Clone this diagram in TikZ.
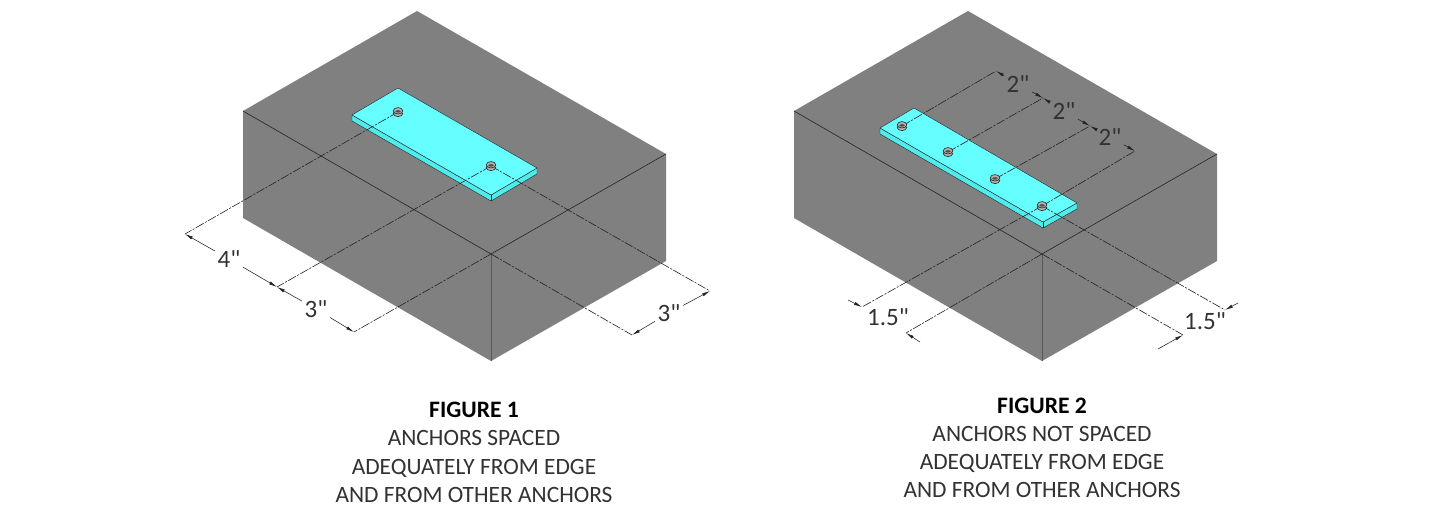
\documentclass[tikz,border=0pt]{standalone}
\usepackage{fontspec}
\setmainfont{Carlito}
\newfontfamily\dimfont{Carlito}
\usetikzlibrary{arrows.meta}
\definecolor{blockgray}{RGB}{128,128,128}
\definecolor{platecyan}{RGB}{102,255,255}
\definecolor{plateside}{RGB}{80,235,235}
\definecolor{inkline}{RGB}{35,35,35}
\definecolor{inktext}{RGB}{50,50,50}
\tikzset{
  blockface/.style={fill=blockgray,draw=none},
  edgeline/.style={draw=inkline,line width=0.6pt,line join=round},
  plateface/.style={fill=platecyan,draw=inkline,line width=0.4pt,line join=round},
  platesidef/.style={fill=plateside,draw=inkline,line width=0.4pt,line join=round},
  witness/.style={draw=inkline,line width=0.6pt,dash pattern=on 9pt off 1.5pt on 2pt off 1.5pt},
  dimline/.style={draw=inkline,line width=0.55pt},
  dimarrow/.style={dimline,-{Latex[length=8pt,width=3.2pt]}},
  dimtext/.style={font=\dimfont\fontsize{25}{25}\selectfont,text=inktext,inner sep=2.5pt},
  captitle/.style={font=\fontsize{23.6}{24}\selectfont\bfseries,text=black,inner sep=0pt,anchor=base},
  capline/.style={font=\fontsize{23.4}{24}\selectfont,text=inktext,inner sep=0pt,anchor=base},
  boltbody/.style={fill=black!30,draw=inkline,line width=0.6pt},
}
\newcommand{\boltat}[2]{%
  \begin{scope}[shift={(#1,#2)}]
    \path[boltbody] (0,1.4) ellipse[x radius=4.8,y radius=3.2];
    \path[fill=black!30] (-4.5,-1) rectangle (4.5,1.4);
    \path[boltbody] (0,-1.2) ellipse[x radius=4.8,y radius=3.2];
    \path[fill=black!70] (0,-0.6) ellipse[x radius=2.8,y radius=1.2];
  \end{scope}}
\begin{document}
\begin{tikzpicture}[x=1pt,y=-1pt]
\useasboundingbox (0,0) rectangle (1430,511);
\fill[white] (0,0) rectangle (1430,511);

% ---------- Figure 1 ----------
\coordinate (aT) at (417,11);
\coordinate (aL) at (243,111);
\coordinate (aR) at (666,154);
\coordinate (aF) at (491,254);
\coordinate (aLb) at (243,218);
\coordinate (aRb) at (666,261);
\coordinate (aFb) at (491,361);
\fill[blockface] (aT) -- (aR) -- (aRb) -- (aFb) -- (aLb) -- (aL) -- cycle;
\draw[edgeline] (aL) -- (aF) -- (aR);
\draw[edgeline,line width=0.8pt,draw=black!65] (aF) -- (aFb);

\coordinate (pL) at (352,115);
\coordinate (pT) at (398,88);
\coordinate (pR) at (537,168);
\coordinate (pF) at (491,195);
\coordinate (pLb) at (352,121);
\coordinate (pRb) at (537,174);
\coordinate (pFb) at (491,201);
\path[platesidef] (pL) -- (pF) -- (pR) -- (pRb) -- (pFb) -- (pLb) -- cycle;
\path[plateface] (pL) -- (pT) -- (pR) -- (pF) -- cycle;
\draw[edgeline,line width=0.4pt] (pF) -- (pFb);

\coordinate (bA) at (398,112);
\coordinate (bB) at (491,166);
\coordinate (d1a) at (185,234);
\coordinate (d1b) at (277,287);
\coordinate (d1c) at (354,332);
\coordinate (d2a) at (710,291);
\coordinate (d2b) at (632,335);
\draw[witness] (bA) -- (d1a);
\draw[witness] (bB) -- (d1b);
\draw[witness] (aF) -- (d1c);
\draw[witness] (bB) -- (d2a);
\draw[witness] (aF) -- (d2b);
\boltat{398}{112}
\boltat{491}{166}

\node[dimtext] (t4) at (229,259) {4"};
\node[dimtext] (t3a) at (316,309) {3"};
\node[dimtext] (t3b) at (669,313) {3"};
\draw[dimarrow] (t4) -- (d1a);
\draw[dimarrow] (t4) -- (d1b);
\draw[dimarrow] (t3a) -- (d1b);
\draw[dimarrow] (t3a) -- (d1c);
\draw[dimarrow] (t3b) -- (d2a);
\draw[dimarrow] (t3b) -- (d2b);

\node[captitle] (c1a) at (474,417) {FIGURE 1};
\node[capline] (c1b) at (474,445) {ANCHORS SPACED};
\node[capline] (c1c) at (474,474) {ADEQUATELY FROM EDGE};
\node[capline] (c1d) at (474,502) {AND FROM OTHER ANCHORS};

% ---------- Figure 2 ----------
\coordinate (eT) at (968,11);
\coordinate (eL) at (794,111);
\coordinate (eR) at (1217,154);
\coordinate (eF) at (1042,254);
\coordinate (eLb) at (794,218);
\coordinate (eRb) at (1217,261);
\coordinate (eFb) at (1042,361);
\fill[blockface] (eT) -- (eR) -- (eRb) -- (eFb) -- (eLb) -- (eL) -- cycle;
\draw[edgeline] (eL) -- (eF) -- (eR);
\draw[edgeline,line width=0.8pt,draw=black!65] (eF) -- (eFb);

\coordinate (qL) at (880,128);
\coordinate (qT) at (914,108);
\coordinate (qR) at (1077,203);
\coordinate (qF) at (1043,222);
\coordinate (qLb) at (880,134);
\coordinate (qRb) at (1077,209);
\coordinate (qFb) at (1043,228);
\path[platesidef] (qL) -- (qF) -- (qR) -- (qRb) -- (qFb) -- (qLb) -- cycle;
\path[plateface] (qL) -- (qT) -- (qR) -- (qF) -- cycle;
\draw[edgeline,line width=0.4pt] (qF) -- (qFb);

\coordinate (b1) at (902,126);
\coordinate (b2) at (948,152);
\coordinate (b3) at (995,179);
\coordinate (b4) at (1042,206);
\coordinate (u1) at (996,71);
\coordinate (u2) at (1043,98);
\coordinate (u3) at (1090,126);
\coordinate (u4) at (1135,151);
\coordinate (l1) at (862,307);
\coordinate (l1o) at (848,300);
\coordinate (l2) at (906,333);
\coordinate (l2o) at (920,342);
\coordinate (r1) at (1225,310);
\coordinate (r1o) at (1238,303);
\coordinate (r2) at (1183,335);
\coordinate (r2o) at (1158,349);
\draw[witness] (b1) -- (u1);
\draw[witness] (b2) -- (u2);
\draw[witness] (b3) -- (u3);
\draw[witness] (b4) -- (u4);
\draw[witness] (b4) -- (l1);
\draw[witness] (eF) -- (l2);
\draw[witness] (b4) -- (r1);
\draw[witness] (eF) -- (r2);
\boltat{902}{126}
\boltat{948}{152}
\boltat{995}{179}
\boltat{1042}{206}

\node[dimtext] (s1) at (1018,84) {2"};
\node[dimtext] (s2) at (1064,111) {2"};
\node[dimtext] (s3) at (1110,137) {2"};
\draw[dimarrow] (s1) -- (u1);
\draw[dimarrow] (s1) -- (u2);
\draw[dimarrow] (s2) -- (u2);
\draw[dimarrow] (s2) -- (u3);
\draw[dimarrow] (s3) -- (u3);
\draw[dimarrow] (s3) -- (u4);
\draw[dimarrow] (l1o) -- (l1);
\draw[dimarrow] (l2o) -- (l2);
\draw[dimarrow] (r1o) -- (r1);
\draw[dimarrow] (r2o) -- (r2);
\node[dimtext] (e1) at (888,317) {1.5"};
\node[dimtext] (e2) at (1205,321) {1.5"};

\node[captitle] (c2a) at (1042,413) {FIGURE 2};
\node[capline] (c2b) at (1042,441) {ANCHORS NOT SPACED};
\node[capline] (c2c) at (1042,469) {ADEQUATELY FROM EDGE};
\node[capline] (c2d) at (1042,497) {AND FROM OTHER ANCHORS};
\end{tikzpicture}
\end{document}
